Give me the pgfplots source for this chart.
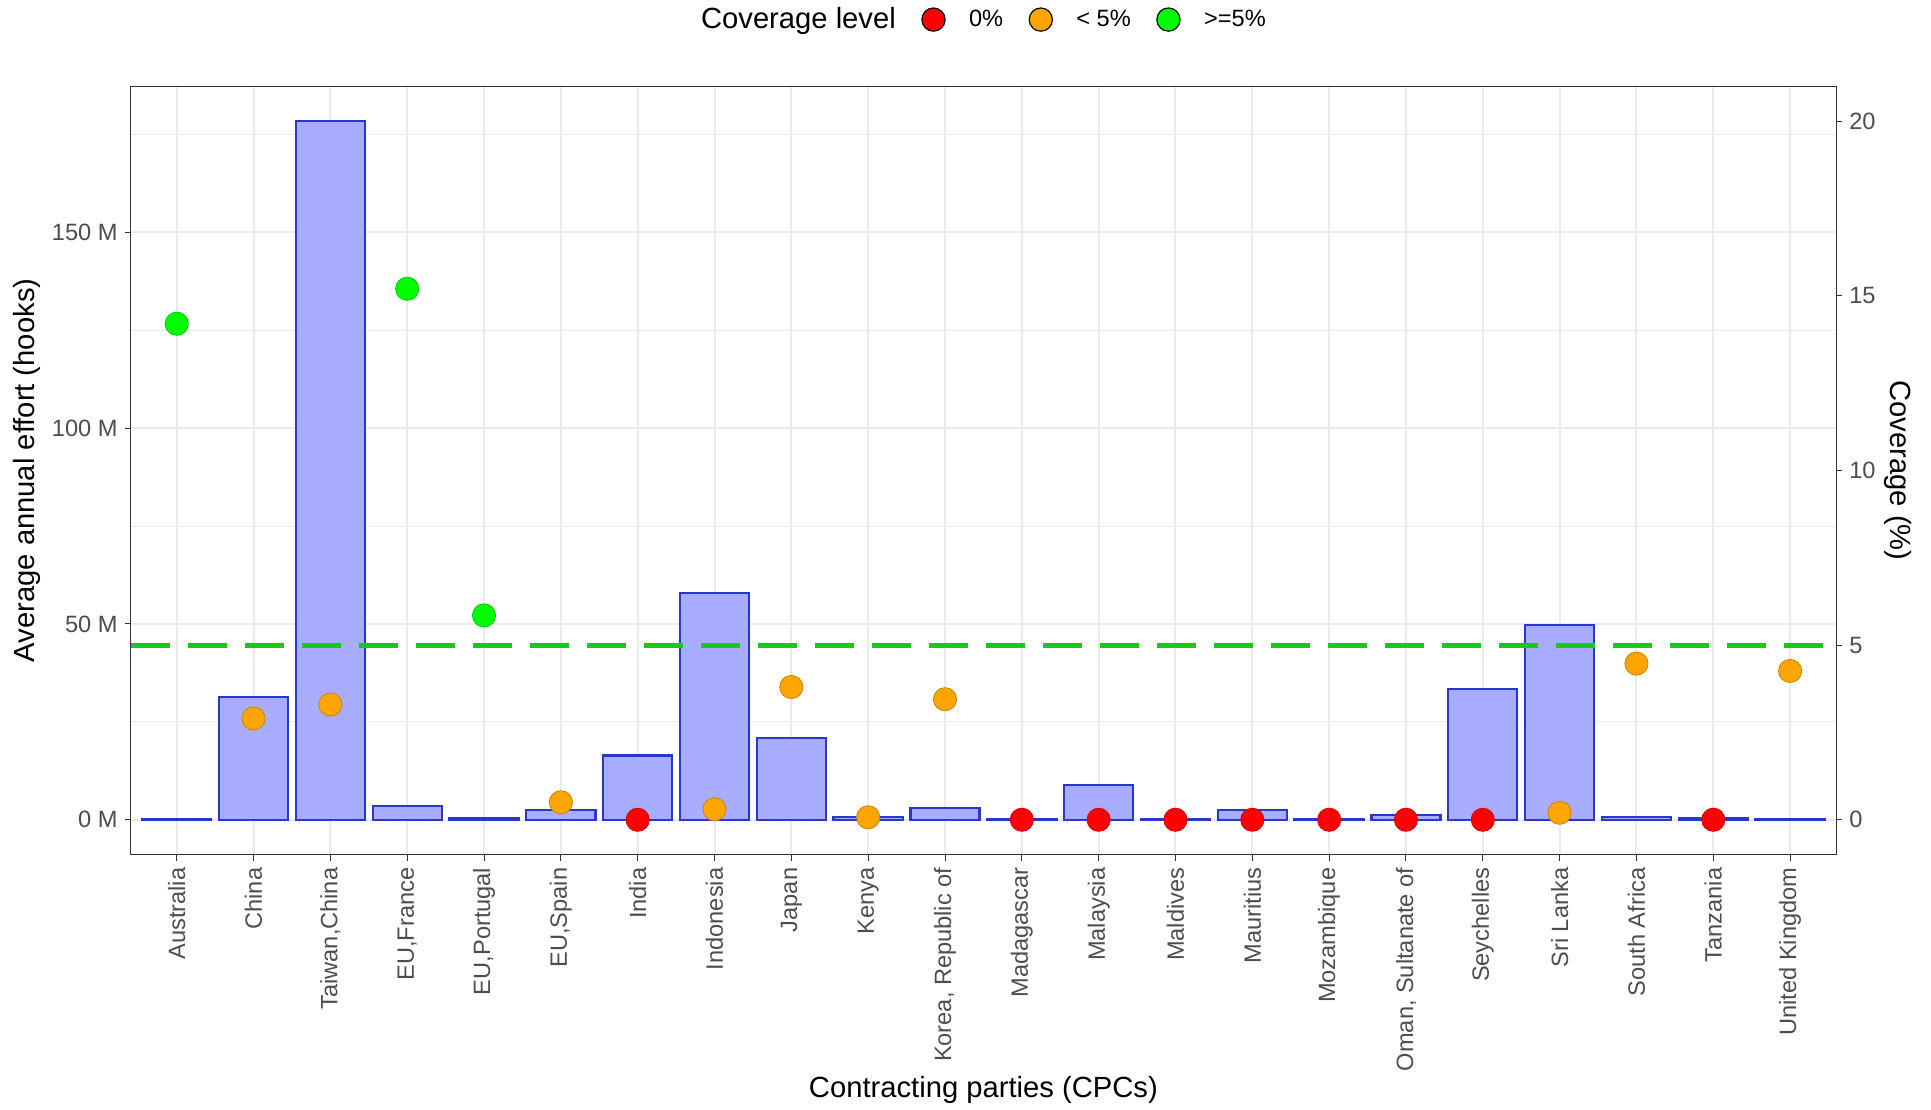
\documentclass[border=0pt]{standalone}
\usepackage{pgfplots}
\pgfplotsset{compat=1.18}
\usepackage{pgfplotstable}
\usepackage{fontspec}
\setmainfont{Liberation Sans}

\definecolor{barfill}{RGB}{168,173,255}
\definecolor{baredge}{RGB}{40,56,204}
\definecolor{gridgray}{RGB}{235,235,235}
\definecolor{textgray}{RGB}{77,77,77}
\definecolor{framegray}{RGB}{51,51,51}
\definecolor{dashgreen}{RGB}{25,200,25}
\definecolor{ptred}{RGB}{255,0,0}
\definecolor{ptorange}{RGB}{255,165,0}
\definecolor{ptgreen}{RGB}{0,255,0}

\newcommand{\ticksize}{\fontsize{11.8pt}{13pt}\selectfont}
\newcommand{\titlesize}{\fontsize{14.6pt}{17pt}\selectfont}

% effort in millions of hooks, coverage in %, level: z = 0%, l = <5%, h = >=5%
\pgfplotstableread{
x effort cov lvl
0 0.1 14.2 h
1 31.4 2.9 l
2 178.4 3.3 l
3 3.5 15.2 h
4 0.5 5.85 h
5 2.5 0.5 l
6 16.4 0 z
7 57.9 0.3 l
8 20.8 3.8 l
9 0.8 0.07 l
10 3.1 3.45 l
11 0.15 0 z
12 8.8 0 z
13 0.15 0 z
14 2.5 0 z
15 0.25 0 z
16 1.2 0 z
17 33.3 0 z
18 49.7 0.2 l
19 0.8 4.47 l
20 0.3 0 z
21 0.1 4.26 l
}\cpc

\begin{document}
\begin{tikzpicture}
\begin{axis}[
  scale only axis, width=852.7pt, height=384.2pt,
  xmin=-0.6, xmax=21.6, ymin=-8.92, ymax=187.32,
  xtick={0,...,21},
  xticklabels={Australia,China,{Taiwan,China},{EU,France},{EU,Portugal},{EU,Spain},India,Indonesia,Japan,Kenya,{Korea, Republic of},Madagascar,Malaysia,Maldives,Mauritius,Mozambique,{Oman, Sultanate of},Seychelles,Sri Lanka,South Africa,Tanzania,United Kingdom},
  xticklabel style={rotate=90, anchor=east, font=\ticksize, text=textgray},
  ytick={0,50,100,150}, yticklabels={0 M,50 M,100 M,150 M},
  minor ytick={25,75,125,175},
  yticklabel style={font=\ticksize, text=textgray},
  xtick pos=lower, ytick pos=left, tick align=outside,
  major tick length=3pt, minor tick length=0pt,
  tick style={framegray, line width=0.5pt},
  xmajorgrids, ymajorgrids, yminorgrids,
  major grid style={gridgray, line width=1pt},
  minor grid style={gridgray, line width=0.5pt},
  axis line style={framegray, line width=0.5pt},
  xlabel={Contracting parties (CPCs)},
  ylabel={Average annual effort (hooks)},
  label style={font=\titlesize},
  xlabel style={at={(axis description cs:0.5,-0.306)}, anchor=center},
  ylabel style={at={(axis description cs:-0.0607,0.5)}, anchor=center},
]
\coordinate (sw) at (rel axis cs:0,0);
\coordinate (ne) at (rel axis cs:1,1);
\addplot[ybar, bar width=0.9, fill=barfill, draw=baredge, line width=1.1pt]
  table[x=x, y=effort] {\cpc};
\end{axis}

\begin{axis}[
  scale only axis, width=852.7pt, height=384.2pt,
  xmin=-0.6, xmax=21.6, ymin=-1, ymax=21,
  hide x axis, axis y line*=right,
  ytick={0,5,10,15,20},
  /pgf/number format/assume math mode=true,
  yticklabel style={font=\ticksize, text=textgray},
  tick align=outside, major tick length=3pt,
  tick style={framegray, line width=0.5pt},
  axis line style={framegray, line width=0.5pt},
  ylabel={Coverage (\%)},
  ylabel style={font=\titlesize, at={(axis description cs:1.0361,0.5)}, anchor=center, rotate=180},
  legend columns=-1,
  legend style={at={(axis description cs:0.5,1)}, anchor=center, yshift=33.3pt,
    draw=none, fill=none, font=\ticksize, column sep=0pt,
    /tikz/every even column/.append style={column sep=6.5pt}},
  legend image code/.code={\draw[#1] plot coordinates {(10pt,0pt)}; \path (0pt,0pt) (25.5pt,0pt);},
]
\addplot[dashgreen, line width=2.5pt, dash pattern=on 19.5pt off 9pt, forget plot]
  coordinates {(-0.6,5) (21.6,5)};
\addplot[scatter, only marks, mark=*, mark size=5.8pt, forget plot,
  scatter src=explicit symbolic,
  scatter/classes={
    z={mark=*, fill=ptred, draw=ptred!85!black, line width=0.4pt},
    l={mark=*, fill=ptorange, draw=ptorange!80!black, line width=0.4pt},
    h={mark=*, fill=ptgreen, draw=ptgreen!80!black, line width=0.4pt}}]
  table[x=x, y=cov, meta=lvl] {\cpc};
\addlegendimage{empty legend}
\addlegendentry{\titlesize Coverage level}
\addlegendimage{only marks, mark=*, mark size=5.8pt, fill=ptred, draw=black, line width=0.6pt}
\addlegendentry{0\%}
\addlegendimage{only marks, mark=*, mark size=5.8pt, fill=ptorange, draw=black, line width=0.6pt}
\addlegendentry{< 5\%}
\addlegendimage{only marks, mark=*, mark size=5.8pt, fill=ptgreen, draw=black, line width=0.6pt}
\addlegendentry{>=5\%}
\end{axis}
\pgfresetboundingbox
\path[use as bounding box] ([xshift=-65.3pt,yshift=-127.5pt]sw) rectangle ([xshift=47.4pt,yshift=43.1pt]ne);
\end{tikzpicture}
\end{document}
